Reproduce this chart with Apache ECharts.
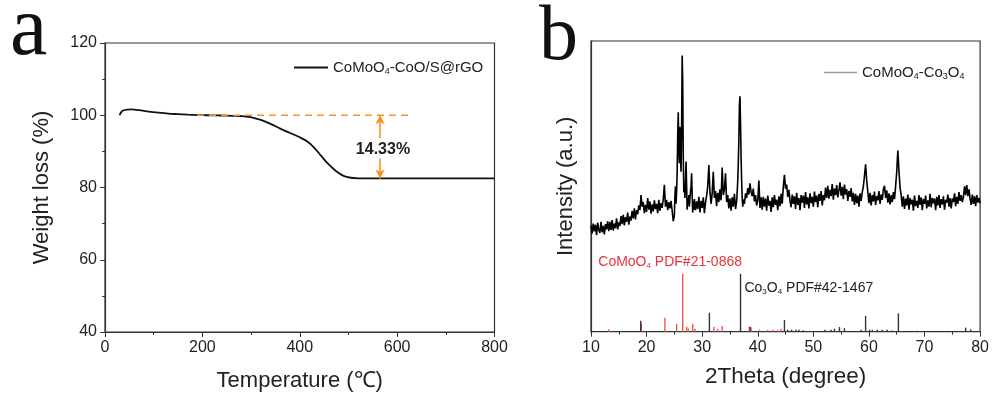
<!DOCTYPE html>
<html><head><meta charset="utf-8">
<script src="https://cdn.jsdelivr.net/npm/echarts@6/dist/echarts.min.js"></script>
<style>html,body{margin:0;padding:0;background:#fff}#c{width:992px;height:397px}</style>
</head><body><div id="c"></div>
<script>
// ---------- Panel a: TGA ----------
const tgaTemp   = [30, 33, 37, 45, 55, 70, 90, 110, 130, 150, 170, 190, 210, 230, 250, 270, 290, 305, 320, 340, 360, 380, 400, 415, 430, 445, 460, 475, 490, 505, 520, 550, 600, 700, 800];
const tgaWeight = [100.0, 100.8, 101.3, 101.55, 101.6, 101.4, 101.0, 100.7, 100.45, 100.3, 100.15, 100.05, 100.0, 99.95, 99.9, 99.8, 99.6, 99.3, 98.7, 97.6, 96.3, 95.1, 93.9, 92.8, 91.0, 88.6, 86.3, 84.5, 83.2, 82.7, 82.55, 82.5, 82.5, 82.5, 82.5];
const refTemp = [189, 630];
const refWeight = 100;
const arrowTemp = 565;
const finalWeight = 82.5;
const lossText = '14.33%';
const lossLabelPos = [571, 90.6];
const tempTicks = [0, 200, 400, 600, 800];
const weightTicks = [40, 60, 80, 100, 120];

// ---------- Panel b: XRD ----------
const seg1Start = 10.0, seg1Step = 0.2;
const seg1 = [36.5, 33.8, 37.2, 34.5, 36.8, 33.2, 37.5, 35.0, 34.0, 37.8, 34.2, 36.4, 33.5, 37.0, 35.2, 38.0,
  34.6, 37.8, 35.0, 38.4, 34.8, 37.2, 35.6, 39.0, 35.2, 37.6,
  36.4, 39.8, 37.0, 40.2, 36.6, 39.4, 37.8, 41.0, 36.8, 39.6,
  38.2, 41.6, 39.0, 42.4, 38.6, 41.8, 40.4,
  43.5, 41.8, 47.0, 43.0,
  44.6, 40.8, 43.6, 41.2, 46.0, 42.0, 44.8, 40.6, 43.8, 41.4, 45.2, 42.2, 44.0, 40.8, 45.4, 41.6, 44.2, 42.6, 45.6,
  50.5,
  43.0, 45.4, 41.8, 44.6, 42.4, 45.0, 41.6, 38.0];
const seg2Start = 25.0, seg2Step = 0.1;
const seg2 = [40, 47, 50, 44, 48, 55, 68, 75.5, 62, 58, 70.5, 60, 55, 70, 95, 86, 60, 48, 50, 46,
  52, 58.5, 50, 42, 46, 43.5, 47, 43, 46, 48, 50, 54.5, 47, 41, 45, 42];
const seg3Start = 28.6, seg3Step = 0.2;
const seg3 = [45.6, 41.8, 44.8, 42.2, 46.4, 41.0, 45.0, 42.6, 46.2, 40.8, 44.4, 46.8,
  50, 57.3, 48, 44.0, 47.6, 55, 46,
  48.4, 43.2, 47.8, 44.6, 49.0, 45.2,
  56.5, 47, 49, 54.5, 44.6,
  47.0, 42.4, 45.8, 41.6, 46.2, 43.0, 47.4, 42.2, 44.8];
const seg4Start = 36.3, seg4Step = 0.1;
const seg4 = [48, 52, 58, 66, 78, 81, 72, 60, 52, 46, 43, 45.5];
const seg5Start = 37.6, seg5Step = 0.2;
const seg5 = [44.0, 47.6, 46.0, 49.4, 47.2, 51.0, 48.0, 46.6, 49.2, 44.8,
  47.0, 43.4, 45.2, 52.0, 42.6, 46.2,
  42.0, 46.4, 43.0, 45.8, 41.6, 46.8, 43.4, 45.0, 41.2, 46.2, 42.8, 47.0, 43.6, 45.4, 41.8, 46.6, 43.2, 47.4, 44.0,
  50.0, 54.0, 49.2, 50.6, 46.4, 48.8, 45.0,
  42.8, 47.2, 44.0, 46.6, 42.2, 47.8, 43.6, 46.0, 41.8, 47.0, 44.4, 46.8, 42.6, 48.0, 43.8, 46.2, 42.4, 47.6, 44.2, 46.4, 43.0, 48.2, 44.6, 46.8, 42.8, 47.4, 45.0, 48.4, 43.4, 47.0,
  45.2, 49.6, 46.0, 50.2, 45.8, 48.8, 46.6, 50.8, 45.4, 49.2, 47.0, 50.4, 46.2, 48.6, 51.4, 46.8, 49.8, 45.6, 50.6, 47.2, 49.0, 45.0, 48.4, 46.4, 49.4, 44.8, 47.8,
  43.6, 47.4, 44.2, 46.8, 43.0, 47.6, 45.0, 48.0,
  50.0, 53.6, 57.6, 52.0, 48.0,
  44.2, 47.8, 43.4, 47.0, 44.8, 48.2, 43.6, 46.6, 45.2, 48.4, 44.0, 47.2, 45.4, 49.0, 50.2, 46.0, 48.6, 44.4, 47.6, 43.8, 47.0, 44.6, 48.0, 45.6,
  50.0, 55.0, 62.3, 55.4, 49.6, 47.0,
  43.0, 46.6, 42.2, 45.8, 43.4, 47.2, 42.0, 46.0, 43.8, 45.4, 41.6, 46.8, 43.2, 45.0, 42.6, 47.0, 43.6, 46.2, 41.8, 45.6,
  44.0, 46.8, 42.4, 45.2, 43.0, 47.4, 42.8, 46.0, 44.2, 45.8, 41.8, 46.4, 43.4, 47.0, 42.6, 45.6, 43.8, 46.6, 42.0, 45.4,
  44.4, 47.2, 43.0, 46.0, 42.4, 45.8, 44.6, 47.6, 43.2, 46.4, 44.0, 48.0, 45.0, 47.0, 44.6,
  46.4, 50.0, 47.0, 50.4, 46.6, 49.0, 45.8,
  43.6, 47.2, 44.0, 46.6, 43.2, 47.0, 44.4, 46.0, 44.2];

// reference sticks [2theta, relative intensity]
const comoo4Sticks = [[13.2, 0.8], [19.05, 2.8], [23.3, 4.8], [25.4, 2.7], [26.5, 19.9], [27.2, 1.7], [27.5, 1.1], [28.3, 2.7], [28.7, 1.0],
  [32.1, 1.7], [32.8, 1.0], [33.6, 2.0], [38.5, 1.7], [38.8, 1.5], [40.3, 0.7], [41.8, 0.7], [42.7, 0.7], [43.6, 0.7], [44.2, 1.0], [45.0, 0.4]];
const co3o4Sticks = [[18.95, 3.8], [31.3, 6.5], [36.9, 19.9], [38.6, 1.7], [44.8, 4.0], [45.4, 0.7], [46.1, 0.7], [46.9, 0.7], [47.4, 0.7], [48.2, 0.5],
  [52.1, 0.7], [53.2, 0.7], [53.8, 1.0], [54.7, 1.6], [55.6, 1.2], [58.6, 0.7], [59.4, 5.4], [60.1, 0.7], [60.6, 0.7], [61.5, 0.7],
  [62.4, 0.7], [63.3, 0.7], [64.2, 0.4], [65.3, 6.3], [68.7, 0.3], [74.1, 0.3], [77.4, 1.4], [78.3, 0.8]];
const comoo4LabelPos = [11.3, 24.0];
const co3o4LabelPos = [37.6, 15.0];
const thetaTicks = [10, 20, 30, 40, 50, 60, 70, 80];

function toPairs(start, step, vals) {
  return vals.map((v, i) => [+(start + i * step).toFixed(2), v]);
}
const xrdData = [].concat(
  toPairs(seg1Start, seg1Step, seg1),
  toPairs(seg2Start, seg2Step, seg2),
  toPairs(seg3Start, seg3Step, seg3),
  toPairs(seg4Start, seg4Step, seg4),
  toPairs(seg5Start, seg5Step, seg5)
);

const FONT = '"Liberation Sans", Arial, sans-serif';
const AX = '#333';
const ORANGE = '#f7941d';

function stickSeries(data, color) {
  return {
    type: 'custom', xAxisIndex: 1, yAxisIndex: 1, data: data, silent: true, z: 3,
    renderItem: function (params, api) {
      const p0 = api.coord([api.value(0), 0]);
      const p1 = api.coord([api.value(0), api.value(1)]);
      return { type: 'line', shape: { x1: p0[0], y1: p0[1], x2: p1[0], y2: p1[1] },
        style: { stroke: color, lineWidth: 1.4 } };
    }
  };
}

function richSet(size, color) {
  return {
    n: { fontSize: size, fontFamily: FONT, color: color },
    s: { fontSize: Math.round(size * 0.6), fontFamily: FONT, color: color, padding: [Math.round(size * 0.53), 0, 0, 0] }
  };
}

const chart = echarts.init(document.getElementById('c'), null, { renderer: 'canvas' });
chart.setOption({
  animation: false,
  backgroundColor: '#fff',
  textStyle: { fontFamily: FONT },
  graphic: [
    { type: 'text', left: 10, top: -10, style: { text: 'a', font: '84px "Liberation Serif", serif', fill: '#111' } },
    { type: 'text', left: 539, top: 0, style: { text: 'b', font: '78px "Liberation Serif", serif', fill: '#111' } }
  ],
  grid: [
    { left: 105, top: 43, width: 389.5, height: 291, show: true, borderColor: AX, borderWidth: 1.2, containLabel: false },
    { left: 591, top: 41, width: 390, height: 290.7, show: true, borderColor: AX, borderWidth: 1.2, containLabel: false }
  ],
  legend: [
    { left: 294, top: 60, padding: 0, itemWidth: 34, itemHeight: 2, itemGap: 5,
      data: [{ name: 'TGA', icon: 'rect', itemStyle: { color: '#111' } }],
      formatter: () => '{n|CoMoO}{s|4}{n|-CoO/S@rGO}',
      textStyle: { rich: richSet(15, '#222') } },
    { left: 824, top: 65, padding: 0, itemWidth: 33, itemHeight: 1.5, itemGap: 5,
      data: [{ name: 'XRD', icon: 'rect', itemStyle: { color: '#9a9a9a' } }],
      formatter: () => '{n|CoMoO}{s|4}{n|-Co}{s|3}{n|O}{s|4}',
      textStyle: { rich: richSet(15, '#222') } }
  ],
  xAxis: [
    { gridIndex: 0, type: 'value', min: 0, max: 800, interval: 200,
      name: 'Temperature (\u2103)', nameLocation: 'middle', nameGap: 38,
      nameTextStyle: { fontSize: 22, color: '#222', fontFamily: FONT },
      axisLine: { show: true, lineStyle: { color: AX, width: 1.2 } },
      axisTick: { show: true, inside: false, length: 5, lineStyle: { color: AX } },
      minorTick: { show: true, splitNumber: 2, length: 3, lineStyle: { color: AX } },
      axisLabel: { fontSize: 16, color: '#222', margin: 8, fontFamily: FONT,
        formatter: v => tempTicks.includes(v) ? String(v) : '' },
      splitLine: { show: false } },
    { gridIndex: 1, type: 'value', min: 10, max: 80, interval: 10,
      name: '2Theta (degree)', nameLocation: 'middle', nameGap: 34,
      nameTextStyle: { fontSize: 22.5, color: '#222', fontFamily: FONT },
      axisLine: { show: true, lineStyle: { color: AX, width: 1.2 } },
      axisTick: { show: true, inside: false, length: 5, lineStyle: { color: AX } },
      minorTick: { show: true, splitNumber: 2, length: 3, lineStyle: { color: AX } },
      axisLabel: { fontSize: 16, color: '#222', margin: 8, fontFamily: FONT,
        formatter: v => thetaTicks.includes(v) ? String(v) : '' },
      splitLine: { show: false } }
  ],
  yAxis: [
    { gridIndex: 0, type: 'value', min: 40, max: 120, interval: 20,
      name: 'Weight loss (%)', nameLocation: 'middle', nameGap: 52,
      nameTextStyle: { fontSize: 22, color: '#222', fontFamily: FONT },
      axisLine: { show: true, lineStyle: { color: AX, width: 1.2 } },
      axisTick: { show: true, inside: false, length: 5, lineStyle: { color: AX } },
      minorTick: { show: true, splitNumber: 2, length: 3, lineStyle: { color: AX } },
      axisLabel: { fontSize: 16, color: '#222', margin: 8, fontFamily: FONT,
        formatter: v => weightTicks.includes(v) ? String(v) : '' },
      splitLine: { show: false } },
    { gridIndex: 1, type: 'value', min: 0, max: 100,
      name: 'Intensity (a.u.)', nameLocation: 'middle', nameGap: 14,
      nameTextStyle: { fontSize: 22, color: '#222', fontFamily: FONT },
      axisLine: { show: true, lineStyle: { color: AX, width: 1.2 } },
      axisTick: { show: false }, axisLabel: { show: false },
      splitLine: { show: false } }
  ],
  series: [
    { name: 'TGA', type: 'line', xAxisIndex: 0, yAxisIndex: 0, smooth: 0.3, symbol: 'none',
      data: tgaTemp.map((t, i) => [t, tgaWeight[i]]),
      lineStyle: { color: '#111', width: 1.8 }, itemStyle: { color: '#111' }, z: 3,
      markPoint: {
        symbol: 'circle', symbolSize: 0.1, silent: true,
        data: [{ coord: lossLabelPos, value: lossText,
          label: { show: true, position: 'inside', formatter: lossText,
            fontSize: 16, fontWeight: 'bold', color: '#222', fontFamily: FONT } }]
      } },
    { name: 'ref', type: 'line', xAxisIndex: 0, yAxisIndex: 0, symbol: 'none',
      data: refTemp.map(t => [t, refWeight]),
      lineStyle: { color: ORANGE, width: 1.6, type: [7, 5] }, z: 4,
      markLine: {
        silent: true, symbolSize: [7, 9],
        lineStyle: { color: ORANGE, width: 1.6, type: 'solid' },
        label: { show: false },
        data: [
          [{ coord: [arrowTemp, 93.6], symbol: 'none' }, { coord: [arrowTemp, refWeight], symbol: 'arrow' }],
          [{ coord: [arrowTemp, 88.0], symbol: 'none' }, { coord: [arrowTemp, finalWeight], symbol: 'arrow' }]
        ]
      } },
    { name: 'XRD', type: 'line', xAxisIndex: 1, yAxisIndex: 1, symbol: 'none', sampling: null,
      data: xrdData, lineStyle: { color: '#000', width: 1.6 }, itemStyle: { color: '#000' }, z: 2,
      markPoint: {
        symbol: 'circle', symbolSize: 0.1, silent: true,
        data: [
          { coord: comoo4LabelPos, value: 1,
            label: { show: true, position: 'right', distance: 0,
              formatter: '{n|CoMoO}{s|4}{n| PDF#21-0868}', rich: richSet(14, '#e8323a') } },
          { coord: co3o4LabelPos, value: 2,
            label: { show: true, position: 'right', distance: 0,
              formatter: '{n|Co}{s|3}{n|O}{s|4}{n| PDF#42-1467}', rich: richSet(14, '#222') } }
        ]
      } },
    stickSeries(comoo4Sticks, '#f05555'),
    stickSeries(co3o4Sticks, '#333')
  ]
});
</script></body></html>
